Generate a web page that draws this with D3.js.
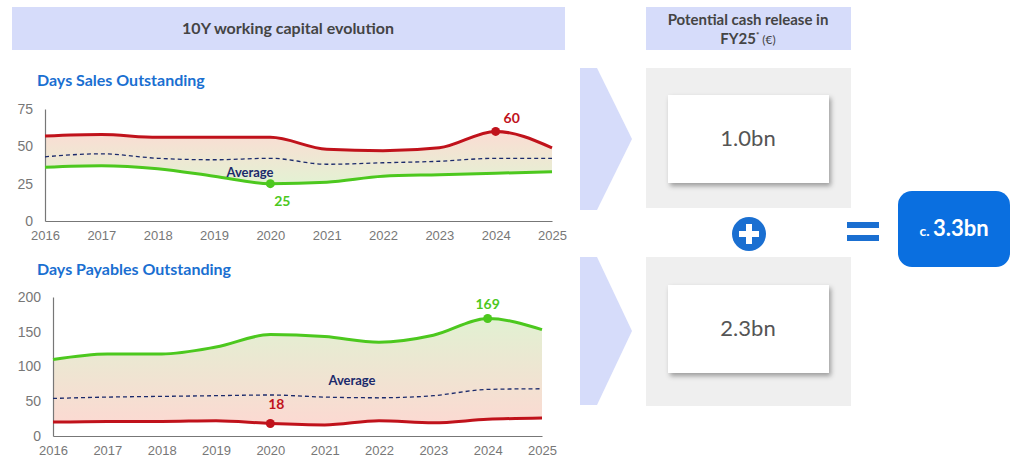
<!DOCTYPE html>
<html><head><meta charset="utf-8">
<script src="https://cdn.jsdelivr.net/npm/d3@7"></script>
<style>body{margin:0;background:#fff}svg{font-family:Lato,"Noto Sans",sans-serif}</style>
</head><body><svg id="c" width="1024" height="473"></svg>
<script>
const years = [2016,2017,2018,2019,2020,2021,2022,2023,2024,2025];
const dsoHigh = [57,58,56,56,56,48,47,49,60,49];
const dsoLow  = [36,37,35,30,25,26,30,31,32,33];
const dsoAvg  = [43,45,42,41,42,38,39,40,42,42];
const dpoHigh = [110,118,118,128,146,143,135,145,169,153];
const dpoLow  = [20,21,21,22,18,16,22,19,24,26];
const dpoAvg  = [54,56,57,58,59,56,55,58,67,68];
const dsoTicks = [0,25,50,75];
const dpoTicks = [0,50,100,150,200];

const svg = d3.select("#c");
const defs = svg.append("defs");
const RED="#c0121b", GREEN="#4cc81e", NAVY="#1b2a6b", BLUE="#1a6fd1";

function grad(id, top, bot){
  const g = defs.append("linearGradient").attr("id",id).attr("x1",0).attr("x2",0).attr("y1",0).attr("y2",1);
  g.append("stop").attr("offset","0%").attr("stop-color",top);
  g.append("stop").attr("offset","100%").attr("stop-color",bot);
}
grad("g1","#fbdcd3","#e3f2d3");
grad("g2","#e1f1d2","#fcd9d2");
const sh = defs.append("filter").attr("id","sh").attr("x","-20%").attr("y","-20%").attr("width","150%").attr("height","150%");
sh.append("feDropShadow").attr("dx",2).attr("dy",3).attr("stdDeviation",2.5).attr("flood-opacity",0.35);

svg.append("rect").attr("x",12).attr("y",7).attr("width",553).attr("height",43).attr("fill","#d6dcfa");
svg.append("text").attr("x",288).attr("y",34).attr("text-anchor","middle").attr("font-size",16).attr("font-weight","bold").attr("fill","#444").text("10Y working capital evolution");
svg.append("rect").attr("x",646).attr("y",7).attr("width",205).attr("height",43).attr("fill","#d6dcfa");
svg.append("text").attr("x",748).attr("y",25).attr("text-anchor","middle").attr("font-size",15).attr("font-weight","bold").attr("fill","#444").text("Potential cash release in");
const t2 = svg.append("text").attr("x",748).attr("y",44).attr("text-anchor","middle").attr("font-size",15).attr("font-weight","bold").attr("fill","#444");
t2.append("tspan").text("FY25");
t2.append("tspan").attr("font-size",8).attr("dy",-6).text("*");
t2.append("tspan").attr("font-size",12).attr("font-weight","normal").attr("dy",6).text(" (€)");

function chart(o){
  const x = d3.scalePoint().domain(years).range([o.x0,o.x1]);
  const y = d3.scaleLinear().domain([0,o.max]).range([o.yb,o.yt]);
  const g = svg.append("g");
  g.append("text").attr("x",o.tx).attr("y",o.ty).attr("font-size",16).attr("font-weight","bold").attr("fill",BLUE).text(o.title);
  const curve = d3.curveMonotoneX;
  g.append("path").datum(years.map((d,i)=>i)).attr("fill",`url(#${o.grad})`)
    .attr("d", d3.area().x(i=>x(years[i])).y0(i=>y(o.lo[i])).y1(i=>y(o.hi[i])).curve(curve));
  const ax = g.append("g").attr("transform",`translate(0,${o.yb})`).call(d3.axisBottom(x).tickSize(0).tickPadding(10));
  ax.select(".domain").attr("stroke","#777").attr("stroke-width",1.2);
  ax.selectAll("text").attr("font-size",13).attr("fill","#777");
  const ay = g.append("g").attr("transform",`translate(${o.x0},0)`).call(d3.axisLeft(y).tickValues(o.ticks).tickSize(0).tickPadding(12));
  ay.select(".domain").attr("stroke","#777").attr("stroke-width",1.2);
  ay.selectAll("text").attr("font-size",14).attr("fill","#777");
  const line = arr => d3.line().x((d,i)=>x(years[i])).y(d=>y(d)).curve(curve)(arr);
  g.append("path").attr("d",line(o.avg)).attr("fill","none").attr("stroke",NAVY).attr("stroke-width",1.3).attr("stroke-dasharray","4,3");
  g.append("path").attr("d",line(o.hi)).attr("fill","none").attr("stroke",o.hiC).attr("stroke-width",3);
  g.append("path").attr("d",line(o.lo)).attr("fill","none").attr("stroke",o.loC).attr("stroke-width",3);
  o.marks.forEach(m=>{
    const i = m.arr.indexOf(m.v);
    g.append("circle").attr("cx",x(years[i])).attr("cy",y(m.v)).attr("r",4.5).attr("fill",m.c);
    g.append("text").attr("x",x(years[i])+m.dx).attr("y",y(m.v)+m.dy).attr("text-anchor","middle").attr("font-size",14).attr("font-weight","bold").attr("fill",m.c).text(m.v);
  });
  g.append("text").attr("x",o.avgX).attr("y",o.avgY).attr("text-anchor","middle").attr("font-size",13).attr("font-weight","bold").attr("fill",NAVY).text("Average");
}
chart({title:"Days Sales Outstanding",tx:37,ty:86,x0:45,x1:552,yb:221,yt:109,max:75,ticks:dsoTicks,
  hi:dsoHigh,lo:dsoLow,avg:dsoAvg,hiC:RED,loC:GREEN,grad:"g1",avgX:250,avgY:177,
  marks:[{arr:dsoHigh,v:60,c:RED,dx:16,dy:-8},{arr:dsoLow,v:25,c:GREEN,dx:12,dy:22}]});
chart({title:"Days Payables Outstanding",tx:37,ty:275,x0:53,x1:542,yb:436,yt:297,max:200,ticks:dpoTicks,
  hi:dpoHigh,lo:dpoLow,avg:dpoAvg,hiC:GREEN,loC:RED,grad:"g2",avgX:352,avgY:385,
  marks:[{arr:dpoHigh,v:169,c:GREEN,dx:0,dy:-10},{arr:dpoLow,v:18,c:RED,dx:6,dy:-14}]});

[[68,210],[257,405]].forEach(([a,b])=>{
  const m=(a+b)/2;
  svg.append("polygon").attr("points",`580,${a} 597,${a} 632,${m} 597,${b} 580,${b}`).attr("fill","#d6dcfa");
});
[[68,208,95,"1.0bn"],[257,406,285,"2.3bn"]].forEach(([a,b,c,t])=>{
  svg.append("rect").attr("x",646).attr("y",a).attr("width",205).attr("height",b-a).attr("fill","#efefef");
  svg.append("rect").attr("x",668).attr("y",c).attr("width",161).attr("height",88).attr("fill","#fff").attr("filter","url(#sh)");
  svg.append("text").attr("x",748).attr("y",c+51).attr("text-anchor","middle").attr("font-size",22).attr("fill","#555").text(t);
});
svg.append("circle").attr("cx",749).attr("cy",234).attr("r",17).attr("fill",BLUE);
svg.append("rect").attr("x",739).attr("y",231).attr("width",20).attr("height",6).attr("fill","#fff");
svg.append("rect").attr("x",746).attr("y",224).attr("width",6).attr("height",20).attr("fill","#fff");
svg.append("rect").attr("x",847).attr("y",222).attr("width",32).attr("height",6).attr("fill",BLUE);
svg.append("rect").attr("x",847).attr("y",235).attr("width",32).attr("height",6).attr("fill",BLUE);
svg.append("rect").attr("x",898).attr("y",191).attr("width",112).attr("height",76).attr("rx",14).attr("fill","#0a6fe0");
const t3 = svg.append("text").attr("x",954).attr("y",236).attr("text-anchor","middle").attr("fill","#fff").attr("font-weight","bold");
t3.append("tspan").attr("font-size",14).text("c. ");
t3.append("tspan").attr("font-size",22).text("3.3bn");
</script></body></html>
